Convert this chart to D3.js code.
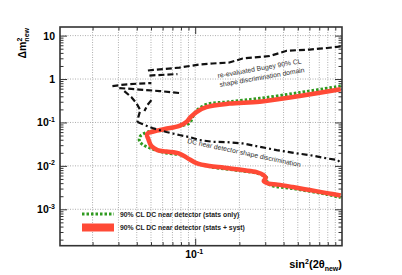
<!DOCTYPE html>
<html>
<head>
<meta charset="utf-8">
<script src="https://cdn.jsdelivr.net/npm/d3@7"></script>
<style>
body { margin: 0; background: #fff; }
text { font-family: "Liberation Sans", Arial, sans-serif; }
</style>
</head>
<body>
<div class="plot"></div>
<script>
// 90% CL DC near detector (stats + syst)
const syst_sin2 = [0.98,0.515,0.275,0.171,0.119,0.102,0.093,0.087,0.078,0.062,0.050,0.047,0.048,0.0503,0.0553,0.0637,0.0781,0.0886,0.102,0.125,0.158,0.210,0.262,0.293,0.302,0.293,0.317,0.365,0.462,0.603,0.79,0.98];
const syst_dm2  = [0.58,0.406,0.30,0.272,0.226,0.174,0.133,0.102,0.083,0.0705,0.060,0.054,0.041,0.0286,0.0231,0.0214,0.0192,0.0151,0.0116,0.0099,0.0091,0.0080,0.0072,0.0061,0.0052,0.0045,0.0039,0.0037,0.00325,0.00277,0.00236,0.00207];

// 90% CL DC near detector (stats only)
const stat_sin2 = [0.98,0.515,0.275,0.171,0.119,0.1016,0.0963,0.0914,0.0722,0.0598,0.0488,0.0423,0.0417,0.0444,0.0503,0.0571,0.0637,0.0806,0.0989,0.125,0.21,0.262,0.297,0.311,0.307,0.332,0.462,0.79,0.98];
const stat_dm2  = [0.69,0.489,0.359,0.30,0.261,0.183,0.135,0.097,0.078,0.0668,0.0617,0.0486,0.0373,0.0302,0.025,0.0219,0.0197,0.0177,0.0122,0.0096,0.0076,0.0068,0.0058,0.005,0.0042,0.0035,0.0030,0.0022,0.00186];

// re-evaluated Bugey domain, drawn in pieces
const bugey1_sin2 = [0.981,0.7875,0.603,0.420,0.376,0.3216,0.246,0.2103,0.171,0.1312,0.107,0.0781,0.0617,0.0473];
const bugey1_dm2  = [5.61,5.18,4.78,4.49,3.97,3.39,3.13,2.97,2.40,2.28,2.16,1.84,1.70,1.57];
const bugey2_sin2 = [0.0488,0.0757];
const bugey2_dm2  = [1.204,1.304];
const bugey3_sin2 = [0.0273,0.0329,0.0417,0.0503];
const bugey3_dm2  = [0.690,0.747,0.788,0.809];
const bugey4_sin2 = [0.0304,0.0417,0.0571,0.0781];
const bugey4_dm2  = [0.620,0.573,0.529,0.476];
const bugey5_sin2 = [0.0329,0.0367,0.0397,0.0423,0.0410,0.0404];
const bugey5_dm2  = [0.529,0.385,0.280,0.193,0.133,0.102];
const bugey6_sin2 = [0.0503,0.0473,0.0451];
const bugey6_dm2  = [0.328,0.252,0.183];

// DC near detector shape discrimination
const dc_sin2 = [0.0404,0.0511,0.0637,0.0781,0.0914,0.107,0.1312,0.1636,0.2103,0.275,0.359,0.491,0.603,0.7875,0.936,0.981];
const dc_dm2  = [0.102,0.0743,0.0601,0.0513,0.0461,0.0393,0.0359,0.0353,0.0330,0.0275,0.0231,0.0194,0.0177,0.0149,0.0136,0.0116];

const xMinor = [0.02,0.03,0.04,0.05,0.06,0.07,0.08,0.09,0.2,0.3,0.4,0.5,0.6,0.7,0.8,0.9];
const xMajor = [0.1];
const yMajor = [0.001,0.01,0.1,1,10];
const yLabels = [["10","-3"],["10","-2"],["10","-1"],["1",""],["10",""]];
const legendLabels = ["90% CL DC near detector (stats only)", "90% CL DC near detector (stats + syst)"];

const width = 402, height = 275;
const pLeft = 60, pRight = 342, pTop = 27, pBottom = 245.7;

const svg = d3.select('.plot').append('svg')
    .attr('width', width)
    .attr('height', height);

const x = d3.scaleLog().domain([0.012, 1]).range([pLeft, pRight]);
const y = d3.scaleLog().domain([1.45e-4, 15.8]).range([pBottom, pTop]);

let yMinor = [];
yMajor.concat([1e-4]).forEach(d => {
    for (let k = 2; k <= 9; k++) {
        let v = d * k;
        if (v > 1.45e-4 && v < 15.8) yMinor.push(v);
    }
});

// grid
svg.append('g').selectAll('line')
    .data(xMinor.concat(xMajor))
    .enter().append('line')
    .attr('x1', d => x(d)).attr('x2', d => x(d))
    .attr('y1', pTop).attr('y2', pBottom)
    .attr('stroke', '#999').attr('stroke-width', 0.8)
    .attr('stroke-dasharray', '1,1.5');
svg.append('g').selectAll('line')
    .data(yMajor)
    .enter().append('line')
    .attr('x1', pLeft).attr('x2', pRight)
    .attr('y1', d => y(d)).attr('y2', d => y(d))
    .attr('stroke', '#999').attr('stroke-width', 0.8)
    .attr('stroke-dasharray', '1,1.5');

// ticks, inward on all four sides
function ticks(axis, vals, size, tr) {
    svg.append('g')
        .attr('transform', tr)
        .call(axis.tickValues(vals).tickSize(size).tickFormat(''))
        .call(g => g.select('.domain').remove())
        .call(g => g.selectAll('line').attr('stroke', '#333'));
}
ticks(d3.axisLeft(y), yMajor, -7, `translate(${pLeft},0)`);
ticks(d3.axisLeft(y), yMinor, -3.5, `translate(${pLeft},0)`);
ticks(d3.axisRight(y), yMajor, -7, `translate(${pRight},0)`);
ticks(d3.axisRight(y), yMinor, -3.5, `translate(${pRight},0)`);
ticks(d3.axisBottom(x), xMajor, -7, `translate(0,${pBottom})`);
ticks(d3.axisBottom(x), xMinor, -3.5, `translate(0,${pBottom})`);
ticks(d3.axisTop(x), xMajor, -7, `translate(0,${pTop})`);
ticks(d3.axisTop(x), xMinor, -3.5, `translate(0,${pTop})`);

// curves
const line = d3.line().x(d => x(d[0])).y(d => y(d[1]));
const smooth = d3.line().x(d => x(d[0])).y(d => y(d[1])).curve(d3.curveCatmullRom);
const zip = (a, b) => a.map((v, i) => [v, b[i]]);

svg.append('path')
    .attr('d', smooth(zip(stat_sin2, stat_dm2)))
    .attr('fill', 'none').attr('stroke', '#2f9a1f')
    .attr('stroke-width', 3).attr('stroke-dasharray', '2.5,2');
svg.append('path')
    .attr('d', smooth(zip(syst_sin2, syst_dm2)))
    .attr('fill', 'none').attr('stroke', '#ff4a36')
    .attr('stroke-width', 4.5).attr('stroke-linejoin', 'round');

const bugey = [[bugey1_sin2, bugey1_dm2], [bugey2_sin2, bugey2_dm2], [bugey3_sin2, bugey3_dm2],
               [bugey4_sin2, bugey4_dm2], [bugey5_sin2, bugey5_dm2], [bugey6_sin2, bugey6_dm2]];
svg.append('g').selectAll('path')
    .data(bugey)
    .enter().append('path')
    .attr('d', d => line(zip(d[0], d[1])))
    .attr('fill', 'none').attr('stroke', '#111')
    .attr('stroke-width', 2.2).attr('stroke-dasharray', '6,3');

svg.append('path')
    .attr('d', line(zip(dc_sin2, dc_dm2)))
    .attr('fill', 'none').attr('stroke', '#111')
    .attr('stroke-width', 2.2).attr('stroke-dasharray', '6,3,2,3');

// frame
svg.append('rect')
    .attr('x', pLeft).attr('y', pTop)
    .attr('width', pRight - pLeft).attr('height', pBottom - pTop)
    .attr('fill', 'none').attr('stroke', '#333').attr('stroke-width', 1.6);

// tick labels
const yl = svg.append('g').selectAll('text')
    .data(yMajor)
    .enter().append('text')
    .attr('x', 55).attr('y', d => y(d) + 4)
    .attr('text-anchor', 'end')
    .attr('font-size', 10.5).attr('font-weight', 'bold');
yl.append('tspan').text((d, i) => yLabels[i][0]);
yl.append('tspan').text((d, i) => yLabels[i][1])
    .attr('font-size', 7).attr('dy', -4.5);

const xl = svg.append('text')
    .attr('x', x(0.1) - 1).attr('y', 258)
    .attr('text-anchor', 'middle')
    .attr('font-size', 10.5).attr('font-weight', 'bold');
xl.append('tspan').text('10');
xl.append('tspan').text('-1').attr('font-size', 7).attr('dy', -4.5);

// axis titles
const xt = svg.append('text')
    .attr('x', pRight).attr('y', 268)
    .attr('text-anchor', 'end')
    .attr('font-size', 11).attr('font-weight', 'bold');
xt.append('tspan').text('sin');
xt.append('tspan').text('2').attr('font-size', 7).attr('dy', -4.5);
xt.append('tspan').text('(2\u03b8').attr('font-size', 11).attr('dy', 4.5);
xt.append('tspan').text('new').attr('font-size', 7).attr('dy', 2.5);
xt.append('tspan').text(')').attr('font-size', 11).attr('dy', -2.5);

const ytl = svg.append('text')
    .attr('transform', 'translate(26,28) rotate(-90)')
    .attr('text-anchor', 'end')
    .attr('font-size', 10.5).attr('font-weight', 'bold');
ytl.append('tspan').text('\u0394m');
ytl.append('tspan').text('2').attr('font-size', 7).attr('dy', -4.5);
ytl.append('tspan').text('new').attr('font-size', 7).attr('dx', -4).attr('dy', 7);

// curve annotations
svg.append('text')
    .attr('transform', 'translate(218,78) rotate(-10)')
    .attr('font-size', 6.8).attr('fill', '#333')
    .text('re-evaluated Bugey 90% CL');
svg.append('text')
    .attr('transform', 'translate(220,87) rotate(-10)')
    .attr('font-size', 6.8).attr('fill', '#333')
    .text('shape discrimination domain');
svg.append('text')
    .attr('transform', 'translate(187,143) rotate(12)')
    .attr('font-size', 6.8).attr('fill', '#333')
    .text('DC near detector shape discrimination');

// legend
svg.append('line')
    .attr('x1', 82).attr('x2', 114).attr('y1', 214).attr('y2', 214)
    .attr('stroke', '#2f9a1f').attr('stroke-width', 3).attr('stroke-dasharray', '2.5,2');
svg.append('rect')
    .attr('x', 82).attr('y', 223.5).attr('width', 32).attr('height', 8)
    .attr('fill', '#ff4a36');
svg.append('g').selectAll('text')
    .data(legendLabels)
    .enter().append('text')
    .attr('x', 120).attr('y', (d, i) => 216.5 + i * 13.5)
    .attr('font-size', 6.8).attr('font-weight', 'bold').attr('fill', '#222')
    .text(d => d);
</script>
</body>
</html>
